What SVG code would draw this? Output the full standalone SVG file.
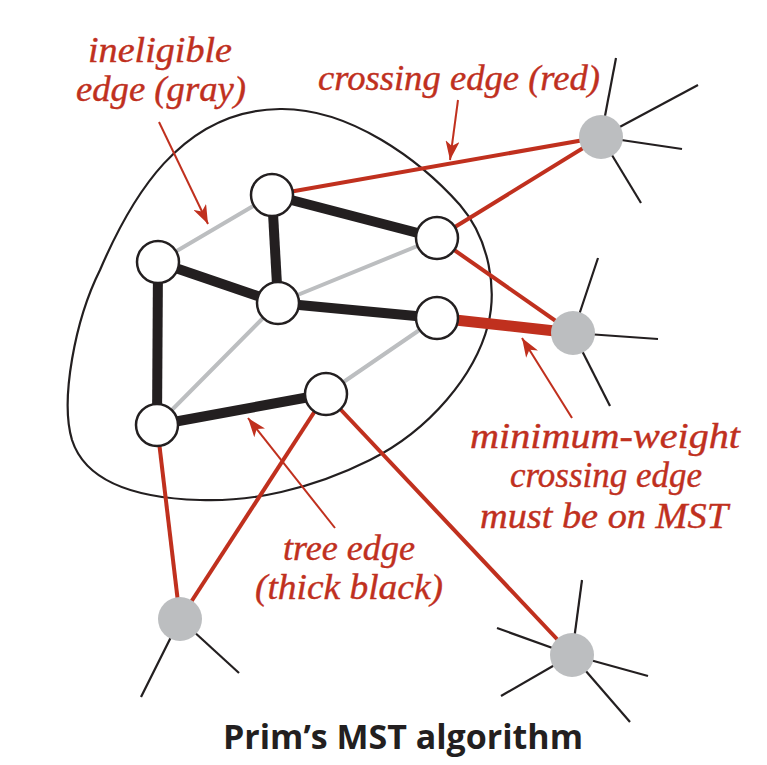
<svg xmlns="http://www.w3.org/2000/svg" width="767" height="765" viewBox="0 0 767 765">
<style>
.blob{fill:none;stroke:#231f20;stroke-width:2.2}
.gray{stroke:#bcbec0;stroke-width:4;stroke-linecap:round}
.tree{stroke:#231f20;stroke-width:10}
.red{stroke:#c0301e;stroke-width:4}
.redthick{stroke:#c0301e;stroke-width:11}
.spoke{stroke:#231f20;stroke-width:2.2}
.in{fill:#fff;stroke:#231f20;stroke-width:2.5}
.out{fill:#bcbec0;stroke:none}
.ptr{stroke:#c0301e;stroke-width:2;fill:none;marker-end:url(#ah)}
.lbl{font-family:"Liberation Serif",serif;font-style:italic;font-size:35px;fill:#c0301e;stroke:#c0301e;stroke-width:0.4}
.title{font-family:"Open Sans","Noto Sans",sans-serif;font-weight:700;font-size:34px;fill:#231f20}
</style>
<defs>
<marker id="ah" markerUnits="userSpaceOnUse" markerWidth="20" markerHeight="14" refX="19" refY="7" orient="auto">
<path d="M0,0 L19,7 L0,14 L5,7 Z" fill="#c0301e"/>
</marker>
</defs>
<path class="blob" d="M280,109 C350,108 420,160 460,205 C490,240 497,290 488,325 C475,375 430,430 370,460 C310,490 250,502 200,500 C130,498 85,480 72,440 C60,400 75,320 100,270 C130,200 180,110 280,109 Z"/>
<g id="connectors">
<line class="gray" x1="272" y1="195" x2="158" y2="262"/>
<line class="gray" x1="437" y1="238" x2="278" y2="303"/>
<line class="gray" x1="278" y1="303" x2="157" y2="425"/>
<line class="gray" x1="437" y1="318" x2="326" y2="394"/>
<line class="tree" x1="272" y1="195" x2="437" y2="238"/>
<line class="tree" x1="272" y1="195" x2="278" y2="303"/>
<line class="tree" x1="158" y1="262" x2="278" y2="303"/>
<line class="tree" x1="278" y1="303" x2="437" y2="318"/>
<line class="tree" x1="158" y1="262" x2="157" y2="425"/>
<line class="tree" x1="157" y1="425" x2="326" y2="394"/>
<line class="red" x1="272" y1="195" x2="601" y2="137"/>
<line class="red" x1="437" y1="238" x2="601" y2="137"/>
<line class="red" x1="437" y1="238" x2="573" y2="333"/>
<line class="redthick" x1="437" y1="318" x2="573" y2="333"/>
<line class="red" x1="157" y1="425" x2="180" y2="619"/>
<line class="red" x1="326" y1="394" x2="180" y2="619"/>
<line class="red" x1="326" y1="394" x2="572" y2="655"/>
<line class="spoke" x1="601" y1="137" x2="616" y2="58"/>
<line class="spoke" x1="601" y1="137" x2="698" y2="85"/>
<line class="spoke" x1="601" y1="137" x2="682" y2="149"/>
<line class="spoke" x1="601" y1="137" x2="641" y2="203"/>
<line class="spoke" x1="573" y1="333" x2="598" y2="258"/>
<line class="spoke" x1="573" y1="333" x2="658" y2="339"/>
<line class="spoke" x1="573" y1="333" x2="610" y2="406"/>
<line class="spoke" x1="180" y1="619" x2="141" y2="697"/>
<line class="spoke" x1="180" y1="619" x2="239" y2="673"/>
<line class="spoke" x1="572" y1="655" x2="582" y2="580"/>
<line class="spoke" x1="572" y1="655" x2="497" y2="628"/>
<line class="spoke" x1="572" y1="655" x2="501" y2="696"/>
<line class="spoke" x1="572" y1="655" x2="648" y2="676"/>
<line class="spoke" x1="572" y1="655" x2="630" y2="722"/>
</g>
<g id="nA"><circle class="in" cx="272" cy="195" r="21"/></g>
<g id="nB"><circle class="in" cx="437" cy="238" r="21"/></g>
<g id="nC"><circle class="in" cx="158" cy="262" r="21"/></g>
<g id="nD"><circle class="in" cx="278" cy="303" r="21"/></g>
<g id="nE"><circle class="in" cx="437" cy="318" r="21"/></g>
<g id="nF"><circle class="in" cx="157" cy="425" r="21"/></g>
<g id="nG"><circle class="in" cx="326" cy="394" r="21"/></g>
<g id="nP"><circle class="out" cx="601" cy="137" r="22"/></g>
<g id="nQ"><circle class="out" cx="573" cy="333" r="22"/></g>
<g id="nR"><circle class="out" cx="180" cy="619" r="22"/></g>
<g id="nS"><circle class="out" cx="572" cy="655" r="22"/></g>
<g id="pointers">
<line class="ptr" x1="159" y1="122" x2="208" y2="224"/>
<line class="ptr" x1="458" y1="100" x2="450" y2="160"/>
<line class="ptr" x1="572" y1="418" x2="522" y2="338"/>
<line class="ptr" x1="335" y1="528" x2="248" y2="418"/>
</g>
<g id="labels">
<text class="lbl" x="88" y="62" textLength="144" lengthAdjust="spacingAndGlyphs">ineligible</text>
<text class="lbl" x="76" y="101" textLength="170" lengthAdjust="spacingAndGlyphs">edge (gray)</text>
<text class="lbl" x="318" y="90" textLength="282" lengthAdjust="spacingAndGlyphs">crossing edge (red)</text>
<text class="lbl" x="470" y="448" textLength="270" lengthAdjust="spacingAndGlyphs">minimum-weight</text>
<text class="lbl" x="510" y="487" textLength="192" lengthAdjust="spacingAndGlyphs">crossing edge</text>
<text class="lbl" x="480" y="528" textLength="248" lengthAdjust="spacingAndGlyphs">must be on MST</text>
<text class="lbl" x="283" y="560" textLength="132" lengthAdjust="spacingAndGlyphs">tree edge</text>
<text class="lbl" x="255" y="599" textLength="188" lengthAdjust="spacingAndGlyphs">(thick black)</text>
<text class="title" x="223" y="749" textLength="360" lengthAdjust="spacingAndGlyphs">Prim’s MST algorithm</text>
</g>
</svg>
